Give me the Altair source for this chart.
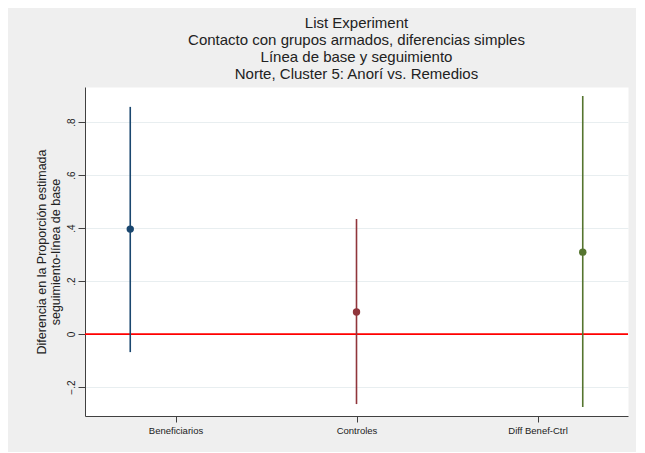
import json
import altair as alt
import pandas as pd

# ---- data ----
categories = ["Beneficiarios", "Controles", "Diff Benef-Ctrl"]
tick_positions = [1, 2, 3]
x_pos = [0.75, 2.0, 3.25]          # where each estimate is drawn on the x scale
estimates = [0.396, 0.083, 0.309]
ci_low = [-0.068, -0.264, -0.275]
ci_high = [0.857, 0.434, 0.898]
colors = ["#1a476f", "#90353b", "#55752f"]
y_ticks = [-0.2, 0, 0.2, 0.4, 0.6, 0.8]
reference_line = [0]

title_lines = [
    "List Experiment",
    "Contacto con grupos armados, diferencias simples",
    "Línea de base y seguimiento",
    "Norte, Cluster 5: Anorí vs. Remedios",
]
y_title = ["Diferencia en la Proporción estimada", "seguimiento-línea de base"]

df = pd.DataFrame({
    "cat": categories,
    "x": x_pos,
    "est": estimates,
    "lo": ci_low,
    "hi": ci_high,
})
zero_df = pd.DataFrame({"lo": reference_line})

FONT = "Liberation Sans"
TEXT = "#222222"

x_scale = alt.Scale(domain=[0.5, 3.5], nice=False, zero=False)
y_scale = alt.Scale(domain=[-0.309, 0.932], nice=False, zero=False)

x_axis = alt.Axis(
    values=tick_positions,
    labelExpr=f"{json.dumps(categories)}[round(datum.value) - 1]",
    title=None, grid=False, tickSize=6, labelFontSize=9.5, labelPadding=3,
    domainColor="#404040", tickColor="#404040", labelColor=TEXT,
    labelFont=FONT, labelFlush=False,
)
y_axis = alt.Axis(
    values=y_ticks,
    labelExpr="datum.value == 0 ? '0' : replace(format(datum.value, '.1f'), '0.', '.')",
    title=y_title, titleFontSize=12.5, titleFontWeight="normal", titleColor=TEXT,
    titleFont=FONT, titlePadding=4, titleLineHeight=13.5,
    grid=True, gridColor="#e8eef0", gridWidth=1,
    labelAngle=270, labelAlign="center", labelBaseline="bottom",
    labelFontSize=10, labelColor=TEXT, labelFont=FONT, labelPadding=2,
    tickSize=7, domainColor="#404040", tickColor="#404040",
)

color = alt.Color("cat:N", scale=alt.Scale(domain=categories, range=colors), legend=None)

zero = alt.Chart(zero_df).mark_rule(color="#ff0000", strokeWidth=1.6).encode(
    y=alt.Y("lo:Q", scale=y_scale, axis=y_axis)
)

bars = alt.Chart(df).mark_rule(strokeWidth=1.6).encode(
    x=alt.X("x:Q", scale=x_scale, axis=x_axis),
    y=alt.Y("lo:Q", scale=y_scale, axis=y_axis),
    y2="hi:Q",
    color=color,
)

pts = alt.Chart(df).mark_point(filled=True, size=55, opacity=1).encode(
    x=alt.X("x:Q", scale=x_scale, axis=x_axis),
    y=alt.Y("est:Q", scale=y_scale, axis=y_axis),
    color=color,
)

chart = alt.layer(zero, bars, pts).properties(
    width=543,
    height=329,
    autosize=alt.AutoSizeParams(type="none"),
    padding={"left": 77, "top": 79, "right": 8, "bottom": 36},
    background="#efefef",
    title=alt.TitleParams(
        text=title_lines, fontSize=15, font=FONT, fontWeight="normal",
        color=TEXT, anchor="middle", offset=5, lineHeight=17,
    ),
).configure_view(fill="white", stroke="transparent")

chart.save("out.html", embed_options={"renderer": "svg", "actions": False})
